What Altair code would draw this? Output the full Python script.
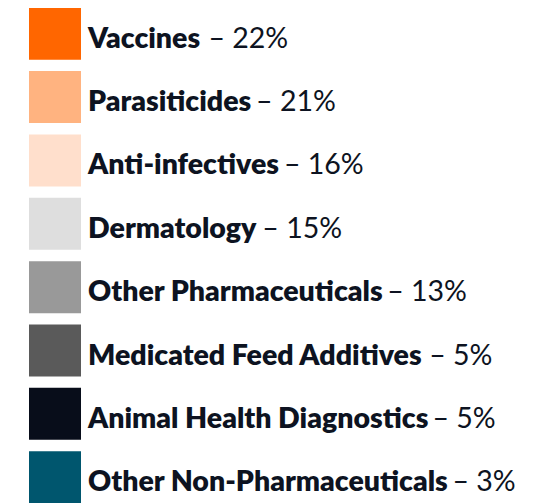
import glob, struct
import altair as alt
import pandas as pd

categories = ["Vaccines", "Parasiticides", "Anti-infectives", "Dermatology",
              "Other Pharmaceuticals", "Medicated Feed Additives",
              "Animal Health Diagnostics", "Other Non-Pharmaceuticals"]
shares = [22, 21, 16, 15, 13, 5, 5, 3]
colors = ["#ff6600", "#ffb380", "#ffdfcc", "#dedede", "#999999", "#5a5a5a", "#080d1a", "#00566e"]

FONT = "Lato"
SIZE = 28.5
BOLD = 800
W, H = 531, 495


def load_metrics(patterns):
    for pat in patterns:
        for path in glob.glob(pat, recursive=True):
            try:
                data = open(path, "rb").read()
                base = 0
                if data[:4] == b"ttcf":
                    base = struct.unpack(">I", data[12:16])[0]
                num = struct.unpack(">H", data[base + 4:base + 6])[0]
                tables = {}
                for i in range(num):
                    rec = base + 12 + 16 * i
                    tag = data[rec:rec + 4].decode("latin1")
                    off, ln = struct.unpack(">II", data[rec + 8:rec + 16])
                    tables[tag] = off
                upem = struct.unpack(">H", data[tables["head"] + 18:tables["head"] + 20])[0]
                nh = struct.unpack(">H", data[tables["hhea"] + 34:tables["hhea"] + 36])[0]
                hm = tables["hmtx"]
                adv = [struct.unpack(">H", data[hm + 4 * i:hm + 4 * i + 2])[0] for i in range(nh)]
                cm = tables["cmap"]
                nt = struct.unpack(">H", data[cm + 2:cm + 4])[0]
                sub = None
                for i in range(nt):
                    p, e, o = struct.unpack(">HHI", data[cm + 4 + 8 * i:cm + 12 + 8 * i])
                    fmt = struct.unpack(">H", data[cm + o:cm + o + 2])[0]
                    if p == 3 and e == 1 and fmt == 4:
                        sub = cm + o
                if sub is None:
                    continue
                seg = struct.unpack(">H", data[sub + 6:sub + 8])[0] // 2
                ends = struct.unpack(">%dH" % seg, data[sub + 14:sub + 14 + 2 * seg])
                s0 = sub + 16 + 2 * seg
                starts = struct.unpack(">%dH" % seg, data[s0:s0 + 2 * seg])
                d0 = s0 + 2 * seg
                deltas = struct.unpack(">%dh" % seg, data[d0:d0 + 2 * seg])
                r0 = d0 + 2 * seg
                roffs = struct.unpack(">%dH" % seg, data[r0:r0 + 2 * seg])

                def gid(c):
                    for k in range(seg):
                        if starts[k] <= c <= ends[k]:
                            if roffs[k] == 0:
                                return (c + deltas[k]) & 0xFFFF
                            a = r0 + 2 * k + roffs[k] + 2 * (c - starts[k])
                            g = struct.unpack(">H", data[a:a + 2])[0]
                            return (g + deltas[k]) & 0xFFFF if g else 0
                    return 0

                def width(text, size):
                    tot = 0
                    for ch in text:
                        g = gid(ord(ch))
                        tot += adv[min(g, nh - 1)]
                    return tot / upem * size
                return width
            except Exception:
                continue
    return lambda text, size: len(text) * size * 0.6


bold_width = load_metrics(["/usr/share/fonts/**/Lato-Heavy.ttf", "/usr/local/share/fonts/**/Lato-Heavy.ttf",
                           "/usr/share/fonts/**/Lato-Black.ttf", "/usr/share/fonts/**/Lato-Bold.ttf"])

TEXT_X = 80
df = pd.DataFrame({
    "idx": list(range(len(categories))),
    "cat": categories,
    "label": categories,
    "pct": ["\u2013 %d%%" % s for s in shares],
})
df["pct_x"] = [TEXT_X + bold_width(c + " ", SIZE) for c in categories]

yscale = alt.Scale(domain=[-25 / 64, (H - 25) / 64], reverse=True)
y = alt.Y("idx:Q", scale=yscale, axis=None)

base = alt.Chart(df)
squares = base.mark_square(size=52 * 52, opacity=1, strokeWidth=0).encode(
    x=alt.value(47), y=y,
    color=alt.Color("cat:N", scale=alt.Scale(domain=categories, range=colors), legend=None),
)
labels = base.mark_text(align="left", baseline="alphabetic", dy=14, font=FONT, fontSize=SIZE,
                        fontWeight=BOLD, color="#0d1321").encode(
    x=alt.value(TEXT_X), y=y, text="label:N")
pcts = base.mark_text(align="left", baseline="alphabetic", dy=14, font=FONT, fontSize=SIZE,
                      fontWeight="normal", color="#0d1321").encode(
    x=alt.X("pct_x:Q", scale=None, axis=None), y=y, text="pct:N")

chart = (squares + labels + pcts).properties(
    width=W, height=H, padding=0, background="white",
    autosize=alt.AutoSizeParams(type="fit", contains="padding"),
).configure_view(stroke="transparent", strokeWidth=0, clip=False)

chart.save("out.html", embed_options={"renderer": "svg", "actions": False})
